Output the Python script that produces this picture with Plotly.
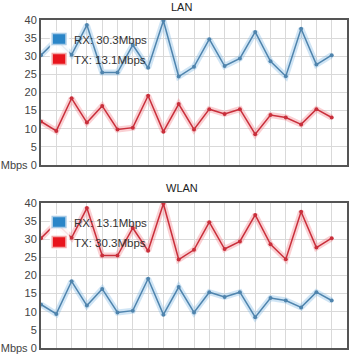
import plotly.graph_objects as go

x_idx = list(range(20))
lan_rx = [30.3, 34.5, 30.4, 38.6, 25.5, 25.5, 33.1, 26.8, 39.8, 24.4, 27.1, 34.7, 27.3, 29.4, 36.7, 28.6, 24.5, 37.6, 27.7, 30.3]
lan_tx = [12.0, 9.4, 18.4, 11.7, 16.3, 9.8, 10.3, 19.1, 9.2, 16.8, 9.8, 15.4, 14.1, 15.4, 8.5, 13.8, 13.1, 11.2, 15.4, 13.1]
wlan_rx = lan_tx
wlan_tx = lan_rx
y_ticks = [0, 5, 10, 15, 20, 25, 30, 35, 40]
y_ticktext = ["Mbps 0", "5", "10", "15", "20", "25", "30", "35", "40"]

BLUE = "#4f84ad"
BLUE_GLOW = "rgba(120,180,225,0.35)"
RED = "#c92f3b"
RED_GLOW = "rgba(240,120,130,0.35)"
FONT = "Liberation Sans, Arial"

W, H = 350, 355
ML, MR, MT, MB = 36, 1, 20, 7
PW = W - ML - MR
PH = H - MT - MB

def xp(px):
    return (px - ML) / PW

def yp(py):
    return (H - MB - py) / PH

fig = go.Figure()

def add_series(vals, color, glow, xa, ya):
    fig.add_trace(go.Scatter(x=x_idx, y=vals, mode="lines", line=dict(color=glow, width=6),
                             hoverinfo="skip", showlegend=False, xaxis=xa, yaxis=ya))
    fig.add_trace(go.Scatter(x=x_idx, y=vals, mode="lines+markers", line=dict(color=color, width=1.5),
                             marker=dict(size=4, color=color), showlegend=False, xaxis=xa, yaxis=ya))

add_series(lan_rx, BLUE, BLUE_GLOW, "x", "y")
add_series(lan_tx, RED, RED_GLOW, "x", "y")
add_series(wlan_rx, BLUE, BLUE_GLOW, "x2", "y2")
add_series(wlan_tx, RED, RED_GLOW, "x2", "y2")

shapes = []
annotations = []

def draw_legend(top, entries):
    # top: pixel y of the plot's top edge
    shapes.append(dict(type="rect", xref="paper", yref="paper", layer="above",
                       x0=xp(45), x1=xp(65), y0=yp(top + 11), y1=yp(top + 47),
                       fillcolor="rgba(255,255,255,0.85)", line=dict(width=0)))
    for i, (name, fill, border) in enumerate(entries):
        by = top + 13.5 + 20 * i
        shapes.append(dict(type="rect", xref="paper", yref="paper", layer="above",
                           x0=xp(47.5), x1=xp(61.5), y0=yp(by + 11), y1=yp(by),
                           fillcolor=fill, line=dict(color=border, width=1.5)))
        annotations.append(dict(text=name, xref="paper", yref="paper", x=xp(68), y=yp(by + 6),
                                xanchor="left", yanchor="middle", showarrow=False,
                                font=dict(family=FONT, size=11.5, color="#333333")))

draw_legend(20, [("RX: %.1fMbps" % lan_rx[-1], "#2a86c8", "#a8cbe6"),
                 ("TX: %.1fMbps" % lan_tx[-1], "#e8141c", "#f2a8a8")])
draw_legend(203, [("RX: %.1fMbps" % wlan_rx[-1], "#2a86c8", "#a8cbe6"),
                  ("TX: %.1fMbps" % wlan_tx[-1], "#e8141c", "#f2a8a8")])

annotations.append(dict(text="LAN", xref="paper", yref="paper", x=xp(179.5), y=yp(7),
                        xanchor="center", yanchor="middle", showarrow=False,
                        font=dict(family=FONT, size=11, color="#222222")))
annotations.append(dict(text="WLAN", xref="paper", yref="paper", x=xp(180.5), y=yp(188),
                        xanchor="center", yanchor="middle", showarrow=False,
                        font=dict(family=FONT, size=11, color="#222222")))

xaxis_style = dict(range=[0, 20], dtick=1, showticklabels=False, showgrid=True, gridcolor="#d9d9d9",
                   gridwidth=1, showline=True, linecolor="#555555", linewidth=2, mirror=True,
                   zeroline=False, ticks="")
yaxis_style = dict(range=[0, 40], tickvals=y_ticks, ticktext=y_ticktext, showgrid=True,
                   gridcolor="#d9d9d9", gridwidth=1, showline=True, linecolor="#555555", linewidth=2,
                   mirror=True, zeroline=False, ticks="",
                   tickfont=dict(family=FONT, size=11, color="#444444"))

fig.update_layout(
    width=W, height=H,
    margin=dict(l=ML, r=MR, t=MT, b=MB),
    paper_bgcolor="white", plot_bgcolor="white",
    showlegend=False,
    xaxis=dict(domain=[0, 1], anchor="y", **xaxis_style),
    yaxis=dict(domain=[yp(165), 1], anchor="x", **yaxis_style),
    xaxis2=dict(domain=[0, 1], anchor="y2", **xaxis_style),
    yaxis2=dict(domain=[0, yp(203)], anchor="x2", **yaxis_style),
    shapes=shapes,
    annotations=annotations,
)

fig.write_html("out.html")
